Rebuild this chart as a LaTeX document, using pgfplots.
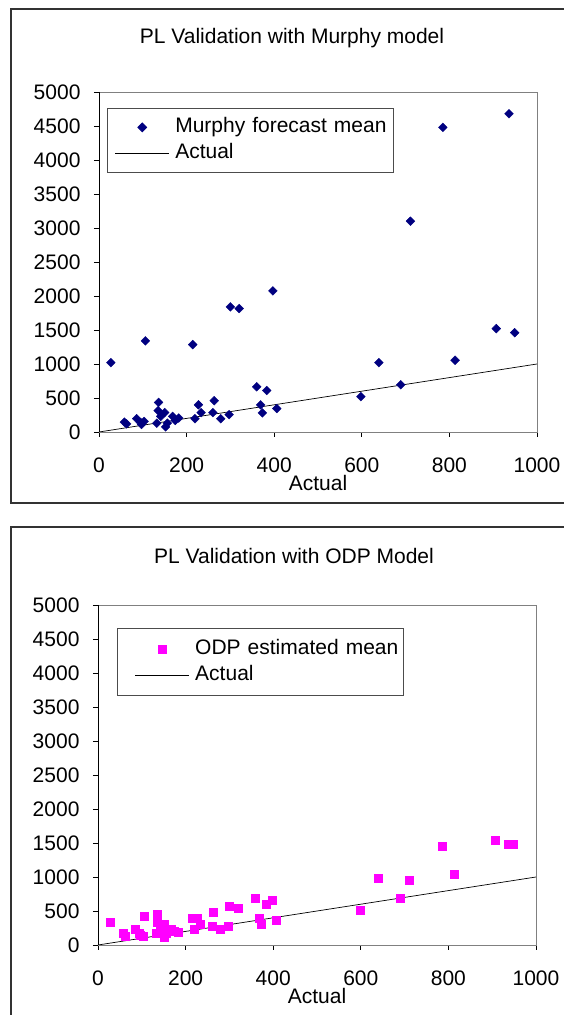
\documentclass[border=0pt]{standalone}
\usepackage{fontspec}
\setmainfont{Liberation Sans}
\usepackage{pgfplots}
\pgfplotsset{compat=1.18}
\definecolor{murphy}{HTML}{000080}
\definecolor{odp}{HTML}{FF00FF}
\newcommand{\cf}{\fontsize{21}{25}\selectfont}
\pgfplotsset{
  chartstyle/.style={
    scale only axis, width=438pt, height=340pt,
    xmin=0, xmax=1000, ymin=0, ymax=5000,
    xtick={0,200,...,1000}, ytick={0,500,...,5000},
    scaled ticks=false,
    /pgf/number format/1000 sep={},
    /pgf/number format/assume math mode=true,
    tick align=outside, xtick pos=bottom, ytick pos=left,
    major tick length=5pt,
    tick style={black, line width=0.8pt},
    axis line style={draw=gray, line width=0.8pt},
    tick label style={font=\cf, black},
    yticklabel style={xshift=-10pt},
    xticklabel style={yshift=-17pt},
    xlabel={Actual},
    xlabel style={font=\cf, at={(axis description cs:0.5,-0.15)}, anchor=center},
    legend cell align=left,
    legend style={font=\cf, draw=black!70, line width=0.8pt, inner xsep=0pt, inner ysep=6pt,
      row sep=0pt, anchor=north west,
      nodes={inner xsep=0pt, inner ysep=2pt, text height=16pt, text depth=6pt}},
  }
}
\begin{document}
\begin{tikzpicture}
\useasboundingbox (0pt,0pt) rectangle (563pt,1015pt);
% outer chart borders
\draw[black!80, line width=1.3pt] (11pt,512pt) rectangle (620pt,1006pt);
\draw[black!80, line width=1.3pt] (11pt,-30pt) rectangle (620pt,488pt);
\node[font=\cf] at (292pt,977pt) {PL Validation with Murphy model};
\node[font=\cf] at (294pt,459pt) {PL Validation with ODP Model};

\begin{axis}[chartstyle, at={(99pt,583pt)}, anchor=south west,
  legend style={at={(axis description cs:0.018,0.953)}, text width=218pt}]
\addplot[only marks, mark=square*, mark size=3.1pt, mark options={rotate=45, draw=murphy, fill=murphy},
  legend image code/.code={\path[draw=none] (-8pt,0pt) -- (60pt,0pt);
    \path[draw=none] plot[mark=square*, mark size=3.1pt, mark options={rotate=45, draw=murphy, fill=murphy}] coordinates {(27pt,0pt)};}] coordinates {
(27,1020)(58,145)(63,120)(86,195)(95,140)(97,110)(103,155)(106,1340)(132,130)(135,315)(136,435)(141,230)(150,285)(152,75)(156,130)(168,230)(174,170)(182,205)(214,1285)(219,195)(227,400)(233,285)(260,285)(263,460)(278,195)(297,255)(300,1840)(320,1815)(360,665)(369,400)(373,280)(383,610)(397,2075)(406,345)(598,520)(639,1020)(689,695)(711,3100)(785,4480)(813,1055)(907,1520)(936,4680)(949,1460)
};
\addlegendentry{Murphy forecast mean}
\addplot[black, line width=0.7pt, no marks,
  legend image code/.code={\path[draw=none] (-8pt,0pt) -- (60pt,0pt);
    \draw[black, line width=0.7pt] (0pt,0pt) -- (54pt,0pt);}] coordinates {(0,0) (1000,1000)};
\addlegendentry{Actual}
\draw[black, line width=0.9pt] (rel axis cs:0,1) -- (rel axis cs:0,0) -- (rel axis cs:1,0);
\end{axis}

\begin{axis}[chartstyle, at={(98pt,70pt)}, anchor=south west,
  legend style={at={(axis description cs:0.043,0.932)}, text width=208pt, inner ysep=7.5pt}]
\addplot[only marks, mark=square*, mark size=4pt, mark options={draw=odp, fill=odp},
  legend image code/.code={\path[draw=none] (-18pt,0pt) -- (60pt,0pt);
    \path[draw=none] plot[mark=square*, mark size=4pt, mark options={draw=odp, fill=odp}] coordinates {(27pt,0pt)};}] coordinates {
(27,340)(58,167)(63,132)(86,225)(95,167)(97,150)(103,132)(106,426)(132,167)(135,338)(136,456)(141,250)(150,309)(152,108)(156,167)(168,225)(174,200)(182,186)(214,397)(219,225)(227,397)(233,309)(260,279)(263,485)(278,225)(297,279)(300,573)(320,544)(360,691)(369,397)(373,309)(383,603)(397,657)(406,367)(598,515)(639,985)(689,691)(711,956)(785,1455)(813,1044)(907,1539)(936,1480)(949,1480)
};
\addlegendentry{ODP estimated mean}
\addplot[black, line width=0.7pt, no marks,
  legend image code/.code={\path[draw=none] (-18pt,0pt) -- (60pt,0pt);
    \draw[black, line width=0.7pt] (0pt,0pt) -- (54pt,0pt);}] coordinates {(0,0) (1000,1000)};
\addlegendentry{Actual}
\draw[black, line width=0.9pt] (rel axis cs:0,1) -- (rel axis cs:0,0) -- (rel axis cs:1,0);
\end{axis}
\end{tikzpicture}
\end{document}
